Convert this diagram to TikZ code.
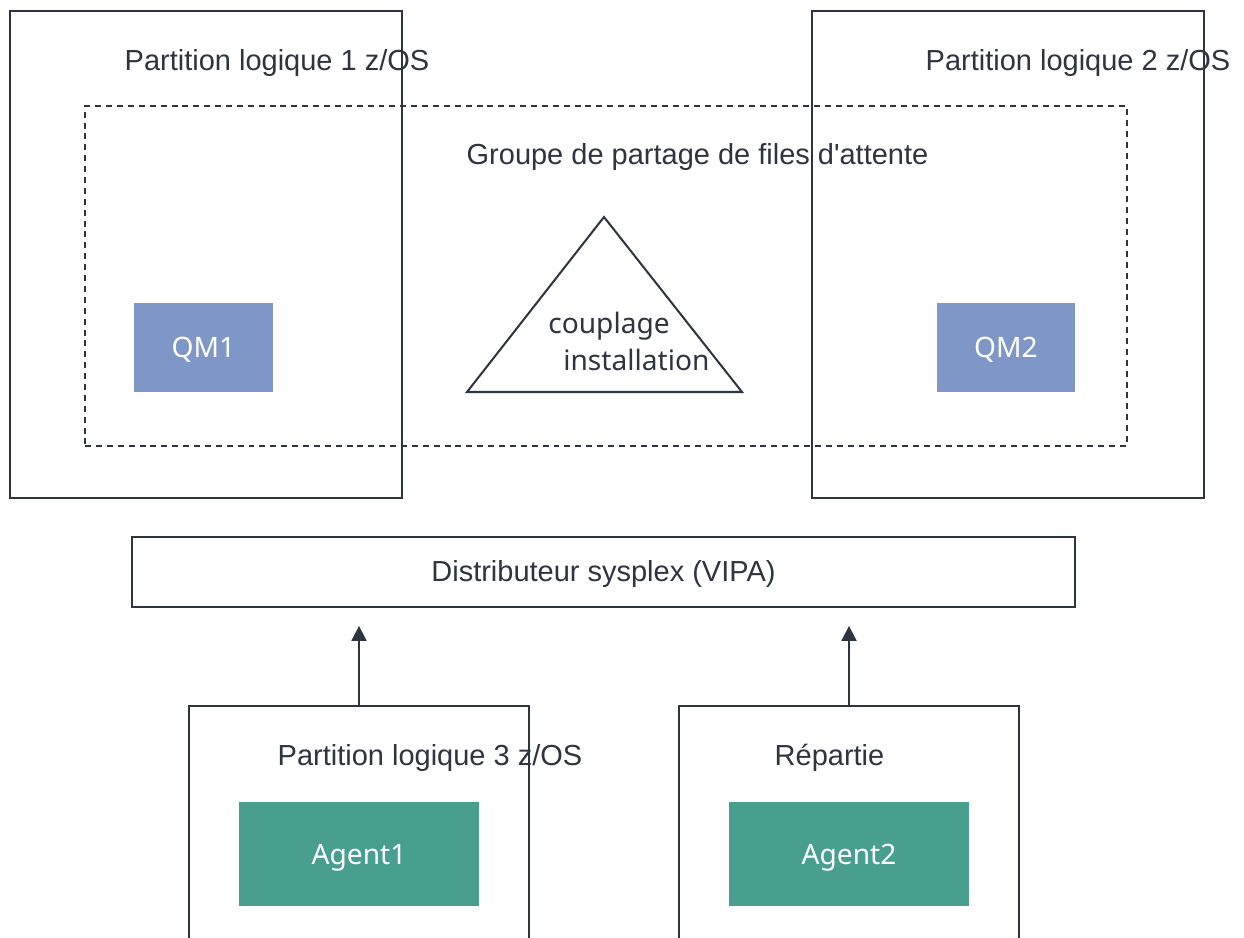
\documentclass[tikz,border=0pt]{standalone}
\usepackage{fontspec}
\setmainfont{Liberation Sans}
\newfontfamily\plexfont{Noto Sans}
\usepackage{xcolor}
\usepackage{tikz}
\usetikzlibrary{arrows.meta,positioning,calc}
\definecolor{qsink}{HTML}{2F3441}
\definecolor{qsblue}{HTML}{7F97C7}
\definecolor{qsgreen}{HTML}{489F8E}
\tikzset{
  lpar/.style={rectangle,draw=qsink,line width=1.15pt,inner sep=0pt,
               minimum width=7.84cm,minimum height=9.74cm},
  client/.style={rectangle,draw=qsink,line width=1.15pt,inner sep=0pt,
                 minimum width=6.8cm,minimum height=5.28cm},
  group/.style={rectangle,draw=qsink,line width=1.15pt,inner sep=0pt,
                dash pattern=on 3.4pt off 2.8pt,
                minimum width=20.84cm,minimum height=6.8cm},
  qmgr/.style={rectangle,fill=qsblue,inner sep=0pt,minimum width=2.78cm,
               minimum height=1.78cm,text height=11.4pt,text depth=0pt,
               font=\plexfont\fontsize{16}{19}\selectfont,text=white},
  agent/.style={rectangle,fill=qsgreen,inner sep=0pt,minimum width=4.8cm,
                minimum height=2.08cm,text height=11.4pt,text depth=0pt,
                font=\plexfont\fontsize{16}{19}\selectfont,text=white},
  title/.style={anchor=base,inner sep=0pt,font=\fontsize{16.5}{19}\selectfont,text=qsink},
  flow/.style={-{Triangle[length=8.5pt,width=8.5pt]},line width=1.15pt,draw=qsink},
}
\begin{document}
\begin{tikzpicture}[x=0.02cm,y=-0.02cm]
\clip (0,0) rectangle (1244,937);
\fill[white] (0,0) rectangle (1244,937);
\node[lpar] (lpar1) at (206,254.5) {};
\node[lpar] (lpar2) at (1008,254.5) {};
\node[group] (qsg) at (606,276) {};
\node[title] (lpar1t) at (277,70) {Partition logique 1 z/OS};
\node[title] (lpar2t) at (1078,70) {Partition logique 2 z/OS};
\node[title] (qsgt) at (697.5,164) {Groupe de partage de files d\textquotesingle attente};
\node[qmgr] (qm1) at (203.5,347.5) {QM1};
\node[qmgr] (qm2) at (1006,347.5) {QM2};
\coordinate (cftop) at (604,217);
\coordinate (cfleft) at (467,392);
\coordinate (cfright) at (742,392);
\draw[qsink,line width=1.15pt,line join=miter] (cftop) -- (cfright) -- (cfleft) -- cycle;
\node[anchor=base west,inner sep=0pt,align=left,text=qsink,
      font=\plexfont\fontsize{16}{21}\selectfont] (cf) at (548,370)
      {couplage\\\hspace{0.3cm}installation};
\node[rectangle,draw=qsink,line width=1.15pt,minimum width=18.86cm,minimum height=1.4cm,
      inner sep=0pt] (sd) at (603.5,572) {};
\node[title] (sdt) at (603.5,581) {Distributeur sysplex (VIPA)};
\node[client] (lpar3) at (359,838) {};
\node[client] (dist) at (849,838) {};
\node[title] (lpar3t) at (430,765) {Partition logique 3 z/OS};
\node[title] (distt) at (829.5,765) {Répartie};
\node[agent] (agent1) at (359,854) {Agent1};
\node[agent] (agent2) at (849,854) {Agent2};
\draw[flow,shorten >=10.2pt] (lpar3.north) -- (lpar3.north |- sd.south);
\draw[flow,shorten >=10.2pt] (dist.north) -- (dist.north |- sd.south);
\end{tikzpicture}
\end{document}
